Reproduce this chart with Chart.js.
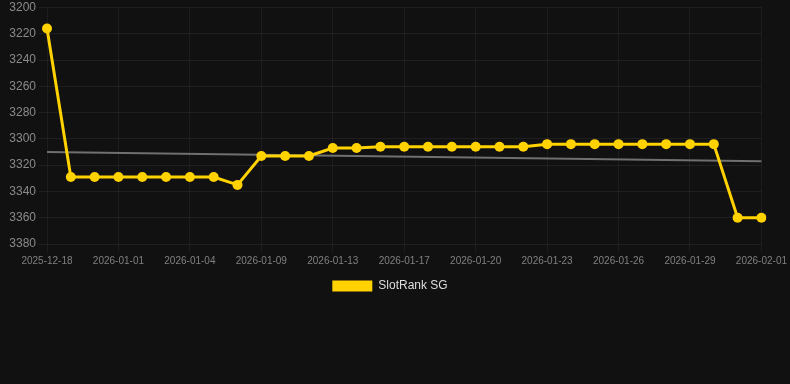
<!DOCTYPE html>
<html>
<head>
<meta charset="utf-8">
<script src="https://cdn.jsdelivr.net/npm/chart.js@4/dist/chart.umd.min.js"></script>
<style>
  html, body { margin: 0; padding: 0; background: #111111; }
  #wrap { width: 790px; height: 384px; position: relative; }
</style>
</head>
<body>
<div id="wrap"><canvas id="rankChart"></canvas></div>
<script>
'use strict';

/* ── Data ── */
const DATES = [
    '2025-12-18', '2025-12-30', '2025-12-31', '2026-01-01', '2026-01-02', '2026-01-03',
    '2026-01-04', '2026-01-06', '2026-01-08', '2026-01-09', '2026-01-11', '2026-01-12',
    '2026-01-13', '2026-01-15', '2026-01-16', '2026-01-17', '2026-01-18', '2026-01-19',
    '2026-01-20', '2026-01-21', '2026-01-22', '2026-01-23', '2026-01-24', '2026-01-25',
    '2026-01-26', '2026-01-27', '2026-01-28', '2026-01-29', '2026-01-30', '2026-01-31',
    '2026-02-01',
];
const RANK_SG = [
    3216, 3329, 3329, 3329, 3329, 3329, 3329, 3329, 3335, 3313, 3313, 3313,
    3307, 3307, 3306, 3306, 3306, 3306, 3306, 3306, 3306, 3304, 3304, 3304,
    3304, 3304, 3304, 3304, 3304, 3360, 3360,
];
// trend line: only its two ends are given, the rest is spanned
const TREND = DATES.map(() => null);
TREND[0] = 3310;
TREND[TREND.length - 1] = 3317;

const Y_MIN = 3200;
const Y_MAX = 3380;
const Y_STEP = 20;

const FONT = 'Liberation Sans, Arial, sans-serif';

/* ── Chart ── */
const ctx = document.getElementById('rankChart').getContext('2d');
new Chart(ctx, {
    type: 'line',
    data: {
        labels: DATES,
        datasets: [
            {
                label: 'SlotRank SG',
                data: RANK_SG,
                borderColor: '#FFD200',
                backgroundColor: '#FFD200',
                borderWidth: 3,
                pointRadius: 5,
                pointBackgroundColor: '#FFD200',
                pointBorderWidth: 0,
                tension: 0,
                order: 1,
            },
            {
                label: 'trend',
                data: TREND,
                borderColor: '#707070',
                borderWidth: 2,
                pointRadius: 0,
                spanGaps: true,
                order: 2,
            },
        ],
    },
    options: {
        responsive: true,
        maintainAspectRatio: false,
        animation: false,
        layout: { autoPadding: false, padding: { left: 0, right: 0, top: 0, bottom: 82 } },
        plugins: {
            legend: {
                position: 'bottom',
                labels: {
                    boxWidth: 40,
                    boxHeight: 11,
                    color: '#dddddd',
                    font: { family: FONT, size: 12 },
                    generateLabels: chart => Chart.defaults.plugins.legend.labels.generateLabels(chart)
                        .filter(item => item.text !== 'trend')
                        .map(item => ({ ...item, text: item.text + '   ', lineWidth: 0 })),
                },
            },
            tooltip: { enabled: false },
        },
        scales: {
            y: {
                reverse: true,
                min: Y_MIN,
                max: Y_MAX,
                afterFit: scale => { scale.width = 47; },
                ticks: {
                    stepSize: Y_STEP,
                    color: '#8a8a8a',
                    font: { family: FONT, size: 12, lineHeight: 0.75 },
                    callback: v => String(v),
                },
                grid: { color: 'rgba(255,255,255,0.06)' },
                border: { display: false },
            },
            x: {
                ticks: {
                    maxTicksLimit: 11,
                    maxRotation: 0,
                    color: '#808080',
                    font: { family: FONT, size: 10 },
                },
                grid: { color: 'rgba(255,255,255,0.05)' },
                border: { display: false },
            },
        },
    },
});
</script>
</body>
</html>
